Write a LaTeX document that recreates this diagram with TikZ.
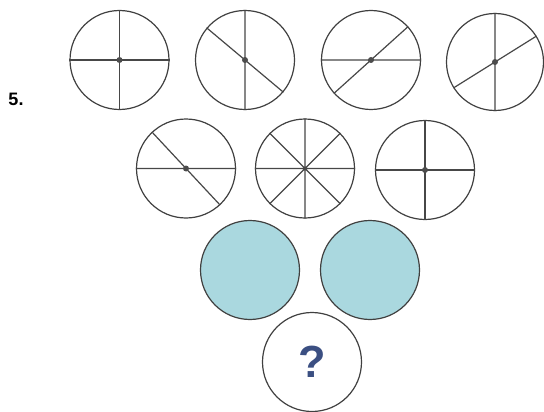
\documentclass[tikz,border=0pt]{standalone}
\usepackage{fontspec}
\setmainfont{Liberation Sans}
\begin{document}
\begin{tikzpicture}[x=1pt,y=-1pt,
  disc/.style={circle,draw=black!75,line width=1.2pt,minimum size=99pt,inner sep=0pt},
  blue/.style={disc,fill=blueish},
  spoke/.style={draw=black!72,line width=1.2pt},
  hub/.style={circle,fill=black!70,minimum size=6pt,inner sep=0pt}]
\definecolor{blueish}{HTML}{AAD8DF}
\definecolor{qcol}{HTML}{3B4F82}
\useasboundingbox (0,0) rectangle (544,412);
\node[font=\bfseries\fontsize{18}{18}\selectfont] (num) at (16,99) {5.};
% row 1
\node[disc] (c1) at (119.5,60) {};
\node[disc] (c2) at (245,60) {};
\node[disc] (c3) at (371,60) {};
\node[disc,minimum size=97pt] (c4) at (495,62) {};
% row 2
\node[disc] (c5) at (186,168.5) {};
\node[disc] (c6) at (305,168.5) {};
\node[disc] (c7) at (425,170) {};
% row 3
\node[blue] (b1) at (250,270) {};
\node[blue] (b2) at (370,270) {};
% row 4
\node[disc] (q) at (312,362) {};
\node[font=\bfseries\fontsize{45}{45}\selectfont,text=qcol] (qm) at (312,362) {?};
% spokes
\draw[spoke] (c1.north) -- (c1.south) (c1.west) -- (c1.east);
\draw[spoke] (c2.north) -- (c2.south) (c2.140) -- (c2.-40);
\draw[spoke] (c3.west) -- (c3.east) (c3.42) -- (c3.222);
\draw[spoke] (c4.north) -- (c4.south) (c4.32) -- (c4.212);
\draw[spoke] (c5.west) -- (c5.east) (c5.133) -- (c5.-47);
\draw[spoke] (c6.north) -- (c6.south) (c6.west) -- (c6.east) (c6.45) -- (c6.225) (c6.135) -- (c6.-45);
\draw[spoke] (c7.north) -- (c7.south) (c7.west) -- (c7.east);
% hubs
\foreach \c in {c1,c2,c3,c4,c5,c7} \node[hub] (h\c) at (\c.center) {};
\end{tikzpicture}
\end{document}
